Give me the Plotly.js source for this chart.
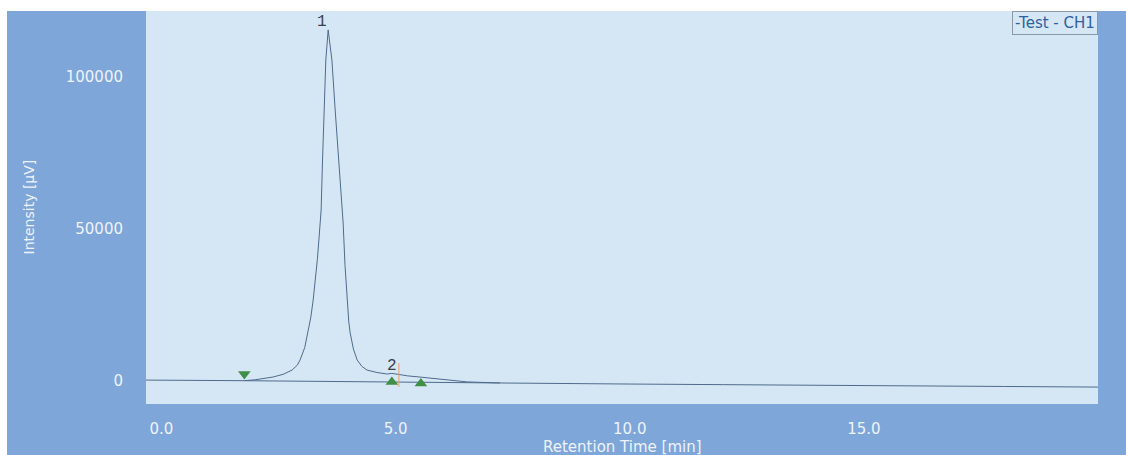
<!DOCTYPE html>
<html>
<head>
<meta charset="utf-8">
<script src="https://cdn.plot.ly/plotly-3.0.1.min.js"></script>
<style>
  html, body { margin: 0; padding: 0; background: #ffffff; }
  #wrap { position: absolute; left: 0; top: 0; width: 1126px; height: 455px; background: #ffffff; }
  #chart { position: absolute; left: 7px; top: 11px; width: 1119px; height: 444px; }
</style>
</head>
<body>
<div id="wrap"><div id="chart"></div></div>
<script>
// Chromatogram (Retention Time [min] vs Intensity [µV])
const timeMin = [-0.33, 0.5, 1.0, 1.5, 1.77, 2.0, 2.2, 2.38, 2.6, 2.79, 2.9, 2.96, 3.06, 3.13, 3.19, 3.24, 3.29, 3.33, 3.37,
                 3.41, 3.44, 3.48, 3.51, 3.56,
                 3.64, 3.71, 3.78, 3.85, 3.88, 3.92, 3.96, 4.0, 4.03, 4.1, 4.18, 4.28, 4.39, 4.6, 4.82, 4.92, 5.05,
                 5.25, 5.52, 6.0, 6.53, 7.23, 8.0, 10.0, 12.0, 13.6, 16.0, 18.0, 20.0];
const intensity = [300, 200, 150, 100, 100, 400, 800, 1300, 2200, 3600, 5200, 6900, 11000, 15800, 21000, 26600, 33000, 40000, 48000,
                   56250, 72700, 89150, 105600, 115500,
                   105600, 89150, 72700, 59500, 52000, 38000, 26600, 19500, 15800, 10500, 6900, 4800, 3600, 2800, 2300, 2500, 2200,
                   1700, 1300, 600, -300, -650, -800, -1000, -1200, -1300, -1600, -1800, -2000];

// Integration baseline
const baseTime = [1.77, 7.23];
const baseVal = [100, -650];

// Peak start / end markers
const startTime = [1.77];
const startVal = [2300];
const endTime = [4.92, 5.54];
const endVal = [-330, -800];

// Peak 2 split line
const splitTime = [5.07, 5.07];
const splitVal = [5900, -1970];

// Peak labels
const peakNames = ["1", "2"];
const peakTime = [3.43, 4.92];
const peakVal = [118000, 4900];

// Axis ticks
const xTicks = [0, 5, 10, 15];
const xTickText = ["0.0", "5.0", "10.0", "15.0"];
const yTicks = [0, 50000, 100000];
const yTickText = ["0", "50000", "100000"];

const lineColor = "#4f6b8c";
const green = "#3f8f47";

const traces = [
  { x: timeMin, y: intensity, type: "scatter", mode: "lines",
    line: { color: lineColor, width: 1 }, name: "Test - CH1" },
  { x: baseTime, y: baseVal, type: "scatter", mode: "lines",
    line: { color: lineColor, width: 1 } },
  { x: splitTime, y: splitVal, type: "scatter", mode: "lines",
    line: { color: "#e8a070", width: 1 } },
  { x: startTime, y: startVal, type: "scatter", mode: "markers",
    marker: { symbol: "triangle-down", color: green, size: 11 } },
  { x: endTime, y: endVal, type: "scatter", mode: "markers",
    marker: { symbol: "triangle-up", color: green, size: 11 } }
];

const annotations = peakNames.map((n, i) => ({
  x: peakTime[i], y: peakVal[i], xref: "x", yref: "y", text: n, showarrow: false,
  font: { family: "Liberation Mono, DejaVu Sans Mono, monospace", size: 16, color: "#3a4048" }
}));

annotations.push({
  xref: "paper", yref: "paper", x: 1, y: 1, xanchor: "right", yanchor: "top",
  text: "-Test - CH1", showarrow: false,
  font: { family: "DejaVu Sans, sans-serif", size: 15, color: "#2f5f9e" },
  bordercolor: "#8a97a6", borderwidth: 1, borderpad: 2, bgcolor: "rgba(0,0,0,0)"
});
annotations.push({
  xref: "paper", yref: "paper", x: 0.5, y: 0, xanchor: "center", yanchor: "top", yshift: -32,
  text: "Retention Time [min]", showarrow: false,
  font: { family: "DejaVu Sans, sans-serif", size: 15, color: "#eef3fa" }
});
annotations.push({
  xref: "paper", yref: "paper", x: 0, y: 0.5, xanchor: "center", yanchor: "middle", xshift: -118, yshift: 0,
  text: "Intensity [µV]", textangle: -90, showarrow: false,
  font: { family: "DejaVu Sans, sans-serif", size: 14, color: "#eef3fa" }
});

const layout = {
  width: 1119, height: 444,
  margin: { l: 139, r: 28, t: 0, b: 51 },
  paper_bgcolor: "#7ea6d8",
  plot_bgcolor: "#d5e7f4",
  showlegend: false,
  xaxis: {
    range: [-0.33, 20.0], tickvals: xTicks, ticktext: xTickText,
    showgrid: false, zeroline: false, showline: false, ticks: "",
    ticklabelstandoff: 14,
    tickfont: { family: "DejaVu Sans, sans-serif", size: 15, color: "#eef3fa" }
  },
  yaxis: {
    range: [-7566, 121710], tickvals: yTicks, ticktext: yTickText,
    showgrid: false, zeroline: false, showline: false, ticks: "",
    ticklabelstandoff: 22,
    tickfont: { family: "DejaVu Sans, sans-serif", size: 15, color: "#eef3fa" }
  },
  annotations: annotations
};

Plotly.newPlot("chart", traces, layout, { displayModeBar: false, staticPlot: true });
</script>
</body>
</html>
